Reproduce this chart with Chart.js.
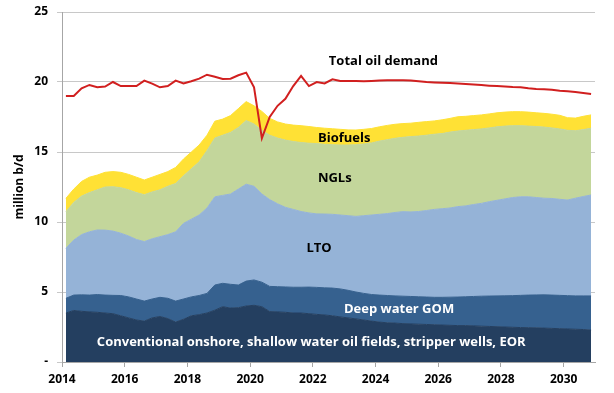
<!DOCTYPE html>
<html>
<head>
<meta charset="utf-8">
<script src="https://cdn.jsdelivr.net/npm/chart.js@4"></script>
<style>
  html, body { margin: 0; padding: 0; background: #fff; }
  canvas { display: block; }
</style>
</head>
<body>
<canvas id="oilChart" width="614" height="393"></canvas>
<script>
// quarters 2014 Q1 .. 2030 Q4, placed at the middle of each quarter
var quarters = [];
for (var yr = 2014; yr <= 2030; yr++) {
  for (var q = 1; q <= 4; q++) quarters.push(yr + (q - 0.5) / 4);
}
var tickYears = [2014, 2016, 2018, 2020, 2022, 2024, 2026, 2028, 2030];

// million b/d
var conventional = [3.5,3.68,3.62,3.58,3.55,3.5,3.45,3.3,3.15,3.0,2.92,3.15,3.25,3.1,2.85,3.05,
  3.3,3.38,3.5,3.7,3.95,3.85,3.88,4.0,4.05,3.95,3.6,3.58,3.55,3.5,3.5,3.45,
  3.4,3.36,3.3,3.22,3.15,3.08,3.0,2.92,2.85,2.8,2.78,2.74,2.72,2.7,2.68,2.66,
  2.64,2.62,2.6,2.6,2.58,2.56,2.54,2.52,2.5,2.48,2.46,2.45,2.44,2.42,2.4,2.38,
  2.36,2.34,2.32,2.28];
var deepWaterGOM = [1.05,1.1,1.18,1.2,1.27,1.28,1.31,1.45,1.5,1.5,1.43,1.35,1.37,1.45,1.5,1.45,
  1.35,1.37,1.4,1.8,1.67,1.7,1.62,1.78,1.81,1.75,1.8,1.8,1.81,1.84,1.84,1.9,
  1.93,1.94,1.98,2.0,1.97,1.92,1.9,1.9,1.93,1.95,1.94,1.96,1.96,1.96,1.96,1.96,
  1.98,2.01,2.04,2.06,2.1,2.14,2.17,2.2,2.23,2.26,2.3,2.33,2.35,2.38,2.38,2.38,
  2.38,2.38,2.4,2.44];
var lto = [3.57,3.93,4.3,4.52,4.61,4.64,4.59,4.45,4.35,4.25,4.25,4.3,4.33,4.55,4.95,5.4,
  5.55,5.75,6.1,6.3,6.28,6.45,6.85,6.92,6.69,6.3,6.2,5.92,5.69,5.56,5.41,5.3,
  5.25,5.27,5.27,5.28,5.33,5.4,5.55,5.68,5.77,5.85,5.96,6.04,6.04,6.09,6.18,6.28,
  6.33,6.37,6.46,6.49,6.57,6.63,6.74,6.83,6.92,7.01,7.04,7.02,6.96,6.9,6.9,6.86,
  6.83,6.98,7.1,7.21];
var ngls = [2.62,2.69,2.75,2.8,2.87,3.08,3.17,3.25,3.3,3.35,3.35,3.35,3.35,3.45,3.45,3.4,
  3.6,3.8,4.1,4.2,4.3,4.4,4.4,4.55,4.45,4.55,4.6,4.7,4.8,4.85,4.93,4.98,
  5.02,4.98,4.97,5.0,5.05,5.12,5.13,5.15,5.23,5.28,5.3,5.31,5.38,5.39,5.38,5.37,
  5.37,5.42,5.4,5.4,5.35,5.32,5.27,5.25,5.2,5.13,5.08,5.05,5.07,5.08,5.04,5.03,
  4.98,4.82,4.78,4.77];
var biofuels = [0.95,0.95,1.05,1.1,1.05,1.05,1.08,1.1,1.1,1.1,1.05,1.05,1.1,1.05,1.15,1.2,
  1.2,1.2,1.1,1.2,1.15,1.2,1.35,1.35,1.3,1.35,1.2,1.15,1.15,1.17,1.2,1.19,
  1.15,1.15,1.14,1.12,1.08,1.05,1.04,1.03,1.02,1.02,1.0,0.98,0.96,0.98,0.97,0.95,
  0.98,0.98,1.02,1.0,1.0,1.0,1.0,1.0,1.0,1.0,1.0,1.0,0.98,0.98,0.98,0.97,
  0.9,0.9,0.95,0.95];
var totalDemand = [19.0,19.0,19.55,19.79,19.62,19.67,20.0,19.71,19.71,19.71,20.1,19.88,19.62,19.71,20.1,19.9,
  20.05,20.24,20.52,20.38,20.21,20.24,20.48,20.67,19.62,15.98,17.5,18.3,18.8,19.71,20.43,19.71,
  20.0,19.9,20.19,20.07,20.07,20.07,20.05,20.07,20.1,20.12,20.12,20.12,20.1,20.05,20.0,19.97,
  19.95,19.93,19.9,19.86,19.82,19.78,19.74,19.71,19.68,19.64,19.62,19.55,19.5,19.48,19.45,19.38,
  19.34,19.28,19.22,19.15];

function pts(arr) {
  return quarters.map(function (x, i) { return {x: x, y: arr[i]}; });
}

function area(label, values, color, fill) {
  return {
    label: label,
    data: pts(values),
    backgroundColor: color,
    borderColor: color,
    borderWidth: 1,
    pointRadius: 0,
    fill: fill,
    stack: 'supply',
    order: 2
  };
}

// text written inside the areas, in data coordinates
var areaLabels = [
  {text: 'Total oil demand', x: 2024.25, y: 21.45, color: '#000'},
  {text: 'Biofuels', x: 2023.0, y: 16.0, color: '#000'},
  {text: 'NGLs', x: 2022.7, y: 13.1, color: '#000'},
  {text: 'LTO', x: 2022.2, y: 8.15, color: '#000'},
  {text: 'Deep water GOM', x: 2024.75, y: 3.8, color: '#fff'},
  {text: 'Conventional onshore, shallow water oil fields, stripper wells, EOR', x: 2021.95, y: 1.43, color: '#fff'}
];

var labelPlugin = {
  id: 'areaLabels',
  afterDatasetsDraw: function (chart) {
    var ctx = chart.ctx;
    var xs = chart.scales.x, ys = chart.scales.y;
    ctx.save();
    ctx.font = 'bold 13px "Open Sans"';
    ctx.textAlign = 'center';
    ctx.textBaseline = 'middle';
    areaLabels.forEach(function (l) {
      ctx.fillStyle = l.color;
      ctx.fillText(l.text, xs.getPixelForValue(l.x), ys.getPixelForValue(l.y));
    });
    ctx.restore();
  }
};

var tickFont = {family: 'Open Sans', size: 12, weight: 'bold'};

new Chart('oilChart', {
  type: 'line',
  data: {
    datasets: [
      area('Conventional onshore, shallow water oil fields, stripper wells, EOR', conventional, '#243f60', 'origin'),
      area('Deep water GOM', deepWaterGOM, '#36618f', '-1'),
      area('LTO', lto, '#95b3d7', '-1'),
      area('NGLs', ngls, '#c3d69b', '-1'),
      area('Biofuels', biofuels, '#ffe135', '-1'),
      {
        label: 'Total oil demand',
        data: pts(totalDemand),
        borderColor: '#d11f1f',
        borderWidth: 2,
        pointRadius: 0,
        fill: false,
        stack: 'demand',
        order: 0
      }
    ]
  },
  options: {
    responsive: false,
    animation: false,
    devicePixelRatio: 1,
    layout: {padding: {left: 0, top: 12, right: 19, bottom: 0}},
    plugins: {
      legend: {display: false},
      tooltip: {enabled: false}
    },
    scales: {
      x: {
        type: 'linear',
        min: 2014,
        max: 2031,
        afterBuildTicks: function (scale) {
          scale.ticks = tickYears.map(function (v) { return {value: v}; });
        },
        afterFit: function (scale) {
          scale.height = 31;
          scale.paddingLeft = 0;
          scale.paddingRight = 0;
        },
        grid: {drawOnChartArea: false, drawTicks: true, tickLength: 5, color: '#a6a6a6'},
        border: {color: '#a6a6a6'},
        ticks: {
          font: tickFont,
          color: '#000',
          padding: 5,
          maxRotation: 0,
          callback: function (v) { return String(v); }
        }
      },
      y: {
        stacked: true,
        min: 0,
        max: 25,
        afterFit: function (scale) {
          scale.width = 62;
          scale.paddingTop = 0;
          scale.paddingBottom = 0;
        },
        grid: {color: '#c8c8c8', tickLength: 5},
        border: {color: '#a6a6a6'},
        ticks: {
          stepSize: 5,
          font: tickFont,
          color: '#000',
          padding: 9,
          callback: function (v) { return v === 0 ? '-' : v; }
        },
        title: {
          display: true,
          text: 'million b/d',
          font: {family: 'Open Sans', size: 12, weight: 'bold'},
          color: '#000',
          padding: {top: 12, bottom: 0}
        }
      }
    }
  },
  plugins: [labelPlugin]
});
</script>
</body>
</html>
